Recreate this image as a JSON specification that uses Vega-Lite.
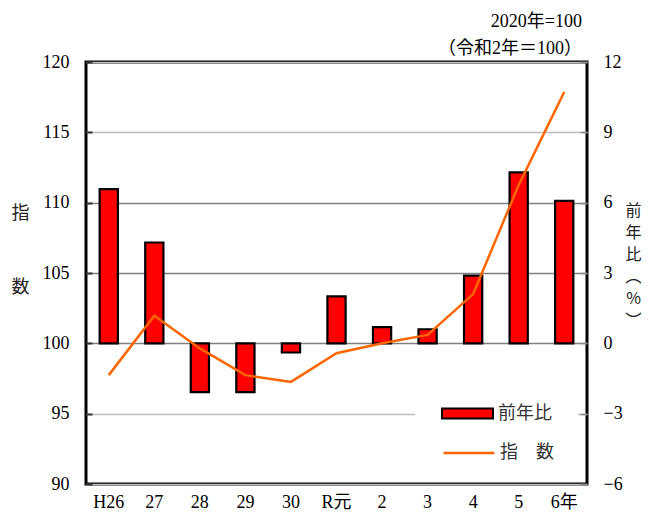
{
  "$schema": "https://vega.github.io/schema/vega-lite/v6.json",
  "autosize": {"type": "none"},
  "width": 501,
  "height": 422,
  "padding": {"left": 86, "top": 62, "right": 61, "bottom": 37},
  "background": "white",
  "config": {
    "view": {"stroke": "black", "strokeWidth": 3},
    "font": "Liberation Serif",
    "axis": {"labelFont": "Liberation Serif", "labelColor": "black", "labelFontSize": 18, "titleFont": "Noto Sans CJK JP", "titleFontWeight": "normal", "titleColor": "#222", "titleFontSize": 17}
  },
  "title": {
    "text": "2020年=100",
    "subtitle": "（令和2年＝100）",
    "anchor": "end",
    "orient": "top",
    "frame": "group",
    "font": "Liberation Serif, Noto Sans CJK JP",
    "subtitleFont": "Liberation Serif, Noto Sans CJK JP",
    "fontSize": 18,
    "subtitleFontSize": 18,
    "fontWeight": "normal",
    "color": "black",
    "subtitleColor": "black",
    "subtitlePadding": 9,
    "offset": -5,
    "dx": -5
  },
  "data": {
    "values": [
      {"year": "H26", "index": 97.74, "yoy": 6.58},
      {"year": "27", "index": 101.97, "yoy": 4.30},
      {"year": "28", "index": 99.64, "yoy": -2.08},
      {"year": "29", "index": 97.74, "yoy": -2.08},
      {"year": "30", "index": 97.26, "yoy": -0.39},
      {"year": "R元", "index": 99.3, "yoy": 2.0},
      {"year": "2", "index": 100.0, "yoy": 0.69},
      {"year": "3", "index": 100.6, "yoy": 0.6},
      {"year": "4", "index": 103.5, "yoy": 2.89},
      {"year": "5", "index": 111.25, "yoy": 7.29},
      {"year": "6年", "index": 117.87, "yoy": 6.08}
    ]
  },
  "encoding": {
    "x": {
      "field": "year",
      "type": "nominal",
      "sort": null,
      "scale": {"paddingInner": 0.6, "paddingOuter": 0.3},
      "axis": {"title": null, "labelAngle": 0, "ticks": false, "domain": false, "grid": false, "labelPadding": 9, "labelFont": "Liberation Serif, Noto Sans CJK JP"}
    }
  },
  "layer": [
    {
      "mark": {"type": "bar", "fill": "#FF0000", "stroke": "black", "strokeWidth": 2.2},
      "encoding": {
        "y": {
          "field": "yoy",
          "type": "quantitative",
          "scale": {"domain": [-6, 12], "nice": false},
          "axis": {
            "orient": "right",
            "values": [-6, -3, 0, 3, 6, 9, 12],
            "grid": false,
            "domain": false,
            "tickSize": -7,
            "tickColor": "#888",
            "tickWidth": 1.5,
            "labelPadding": 23,
            "labelFont": "Liberation Serif",
            "encode": {"labels": {"update": {"font": {"value": "Liberation Serif"}}}},
            "title": ["前", "年", "比", "︵", "%", "︶"],
            "titleAngle": 0,
            "titleLineHeight": 22,
            "titleFontSize": 16,
            "titleAlign": "center",
            "titleBaseline": "middle",
            "titleX": 46,
            "titleY": 148
          }
        },
        "fill": {
          "datum": "前年比",
          "scale": {"range": ["#FF0000"]},
          "legend": {
            "orient": "none",
            "legendX": 329,
            "legendY": 299,
            "title": null,
            "padding": 26,
            "fillColor": "white",
            "symbolType": "M-1,-0.2H1V0.2H-1Z",
            "symbolSize": 2601,
            "symbolStrokeColor": "black",
            "symbolStrokeWidth": 2,
            "labelOffset": 4,
            "labelFont": "Noto Sans CJK JP",
            "labelFontSize": 18,
            "labelColor": "#333",
            "encode": {"symbols": {"update": {"stroke": {"value": "black"}, "strokeWidth": {"value": 2}, "fill": {"value": "#FF0000"}, "opacity": {"value": 1}}}}
          }
        }
      }
    },
    {
      "mark": {"type": "line", "strokeWidth": 2.5},
      "encoding": {
        "y": {
          "field": "index",
          "type": "quantitative",
          "scale": {"domain": [90, 120], "nice": false, "zero": false},
          "axis": {
            "orient": "left",
            "values": [90, 95, 100, 105, 110, 115, 120],
            "grid": true,
            "gridColor": {"condition": {"test": "datum.value >= 100 && datum.value <= 110", "value": "#808080"}, "value": "#bbbbbb"},
            "gridWidth": 1.5,
            "domain": false,
            "tickSize": -6,
            "tickColor": "#333",
            "tickWidth": 2,
            "labelPadding": 23,
            "labelFont": "Liberation Serif",
            "encode": {"labels": {"update": {"font": {"value": "Liberation Serif"}}}},
            "title": ["指", "数"],
            "titleAngle": 0,
            "titleLineHeight": 74,
            "titleFontSize": 18,
            "titleAlign": "center",
            "titleBaseline": "middle",
            "titleX": -66,
            "titleY": 151
          }
        },
        "stroke": {
          "datum": "指　数",
          "scale": {"range": ["#FF6600"]},
          "legend": {
            "orient": "none",
            "legendX": 351,
            "legendY": 359,
            "title": null,
            "padding": 5,
            "fillColor": "white",
            "symbolType": "stroke",
            "symbolSize": 2601,
            "symbolStrokeWidth": 2.5,
            "labelOffset": 4,
            "labelFont": "Noto Sans CJK JP",
            "labelFontSize": 18,
            "labelColor": "#333"
          }
        }
      }
    }
  ],
  "resolve": {"scale": {"y": "independent", "fill": "independent", "stroke": "independent"}}
}
